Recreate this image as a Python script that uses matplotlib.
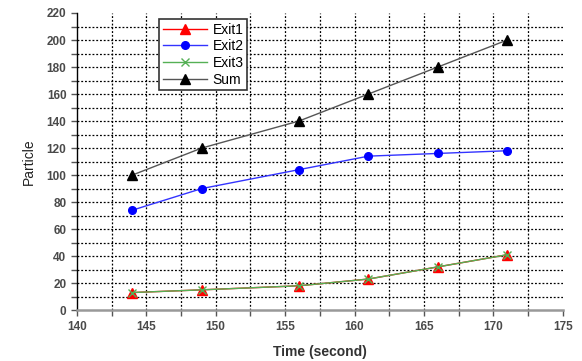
import numpy as np
import matplotlib.pyplot as plt
from matplotlib.ticker import MultipleLocator

plt.rcParams['font.family'] = ['Liberation Sans', 'DejaVu Sans']

# data
time = [144, 149, 156, 161, 166, 171]
exit1 = [13, 15, 18, 23, 32, 41]
exit2 = [74, 90, 104, 114, 116, 118]
exit3 = [13, 15, 18, 23, 32, 41]
total = [100, 120, 140, 160, 180, 200]

fig = plt.figure(figsize=(5.82, 3.61), dpi=100)
ax = fig.add_axes([0.132, 0.141, 0.835, 0.823])

# dotted grid, every minor step
for yv in np.arange(10, 220, 10):
    ax.axhline(yv, color='black', ls=(0, (1.5, 1.5)), lw=0.9, zorder=0)
for xv in np.arange(142.5, 175, 2.5):
    ax.axvline(xv, color='black', ls=(0, (1.5, 1.5)), lw=0.9, zorder=0)

ax.plot(time, exit1, color='red', lw=1, marker='^', ms=6.5, mfc='red', mec='red', label='Exit1')
ax.plot(time, exit2, color='#3333ff', lw=1, marker='o', ms=5.5, mfc='blue', mec='blue', label='Exit2')
ax.plot(time, exit3, color='#55b055', lw=1, marker='x', ms=5.5, mec='#55b055', label='Exit3')
ax.plot(time, total, color='#555555', lw=1, marker='^', ms=6.5, mfc='black', mec='black', label='Sum')

ax.set_xlim(140, 175)
ax.set_ylim(0, 220)
ax.xaxis.set_major_locator(MultipleLocator(5))
ax.xaxis.set_minor_locator(MultipleLocator(2.5))
ax.yaxis.set_major_locator(MultipleLocator(20))
ax.yaxis.set_minor_locator(MultipleLocator(10))

ax.spines['top'].set_visible(False)
ax.spines['right'].set_visible(False)
ax.spines['bottom'].set_color('#999999')
ax.spines['bottom'].set_linewidth(1.8)
ax.spines['left'].set_color('black')
ax.spines['left'].set_linewidth(1)

ax.tick_params(which='major', direction='out', length=4, width=1, labelsize=8.5,
               labelcolor='#4a4a4a', colors='#555555')
ax.tick_params(which='minor', direction='out', length=4, width=1, colors='#555555')
for lab in ax.get_xticklabels() + ax.get_yticklabels():
    lab.set_fontweight('bold')

ax.set_xlabel('Time (second)', fontsize=10, fontweight='bold', color='#333333', labelpad=9)
ax.set_ylabel('Particle', fontsize=10, color='#222222', labelpad=8)

leg = ax.legend(loc='upper left', bbox_to_anchor=(0.155, 1.003), fontsize=10,
                frameon=True, fancybox=False, edgecolor='#333333', framealpha=1,
                handlelength=3.2, borderpad=0.25, labelspacing=0.2, handletextpad=0.4)
leg.get_frame().set_linewidth(1.2)

fig.savefig('out.png', dpi=100)
